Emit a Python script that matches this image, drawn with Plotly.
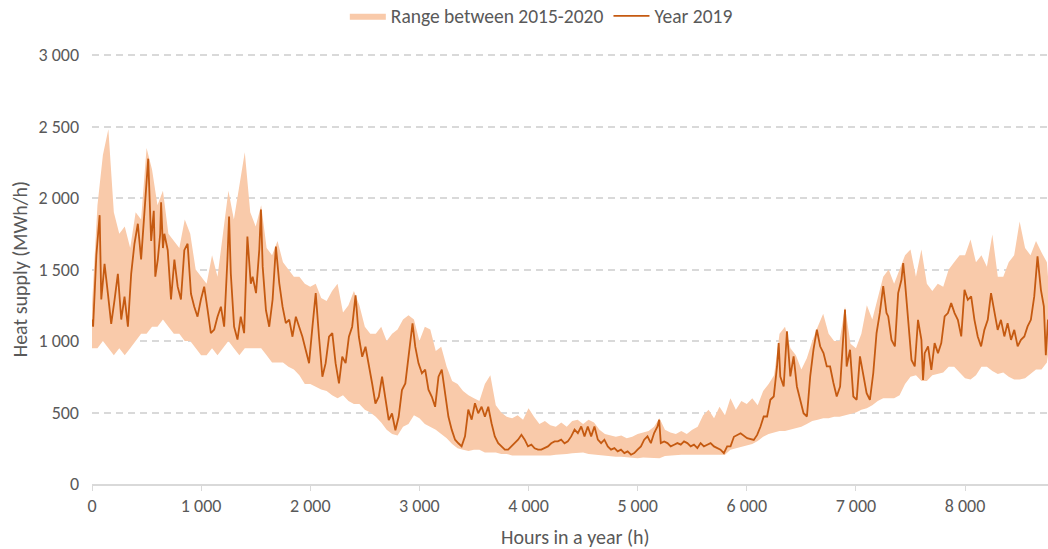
import plotly.graph_objects as go

# ---- Year 2019 line (hours, MWh/h) ----
line_hours = [
    0, 10, 40, 70, 85, 115, 146, 176, 207, 237,
    268, 298, 329, 359, 389, 420, 450, 481, 505, 515,
    542, 566, 580, 603, 625, 633, 650, 663, 694, 724,
    755, 785, 815, 846, 876, 907, 937, 967, 998, 1028,
    1059, 1089, 1120, 1150, 1181, 1211, 1241, 1256, 1272, 1302,
    1333, 1363, 1394, 1424, 1455, 1472, 1503, 1533, 1548, 1564,
    1594, 1624, 1655, 1685, 1716, 1746, 1776, 1807, 1837, 1868,
    1898, 1928, 1959, 1989, 2020, 2050, 2080, 2111, 2141, 2172,
    2202, 2232, 2263, 2293, 2324, 2354, 2384, 2415, 2445, 2476,
    2506, 2536, 2567, 2597, 2628, 2658, 2688, 2719, 2749, 2780,
    2810, 2840, 2871, 2901, 2937, 2962, 2992, 3023, 3053, 3083,
    3114, 3144, 3175, 3205, 3235, 3266, 3296, 3327, 3357, 3387,
    3418, 3448, 3479, 3509, 3539, 3570, 3600, 3631, 3661, 3691,
    3722, 3752, 3783, 3813, 3843, 3874, 3904, 3935, 3965, 3995,
    4026, 4056, 4087, 4117, 4147, 4178, 4208, 4239, 4269, 4299,
    4330, 4360, 4391, 4422, 4452, 4483, 4513, 4543, 4574, 4604,
    4635, 4665, 4695, 4726, 4756, 4787, 4817, 4847, 4878, 4908,
    4939, 4969, 4999, 5030, 5060, 5090, 5121, 5151, 5182, 5197,
    5212, 5243, 5273, 5303, 5334, 5364, 5395, 5425, 5455, 5486,
    5516, 5547, 5577, 5607, 5638, 5668, 5699, 5729, 5759, 5790,
    5820, 5851, 5882, 5943, 6003, 6064, 6095, 6125, 6155, 6186,
    6216, 6247, 6277, 6292, 6307, 6338, 6368, 6399, 6429, 6459,
    6490, 6520, 6551, 6581, 6611, 6642, 6672, 6703, 6733, 6763,
    6794, 6824, 6855, 6885, 6900, 6915, 6946, 6976, 7007, 7037,
    7067, 7098, 7128, 7159, 7189, 7219, 7250, 7280, 7296, 7326,
    7357, 7387, 7417, 7433, 7448, 7478, 7509, 7539, 7569, 7600,
    7615, 7630, 7661, 7691, 7721, 7752, 7782, 7813, 7843, 7873,
    7904, 7934, 7965, 7995, 8025, 8056, 8086, 8116, 8147, 8177,
    8208, 8238, 8269, 8299, 8329, 8360, 8390, 8421, 8451, 8482,
    8512, 8543, 8573, 8603, 8634, 8664, 8695, 8722, 8740, 8760,
]
year_2019 = [
    1150, 1100, 1600, 1880, 1290, 1540, 1330, 1120, 1290, 1470,
    1150, 1310, 1100, 1470, 1680, 1820, 1570, 1910, 2100, 2275,
    1700, 1910, 1450, 1570, 1750, 1970, 1650, 1750, 1635, 1290,
    1570, 1380, 1290, 1635, 1680, 1330, 1240, 1170, 1290, 1380,
    1220, 1055, 1080, 1170, 1240, 1100, 1570, 1870, 1470, 1100,
    1010, 1170, 1055, 1730, 1400, 1450, 1335, 1640, 1920, 1520,
    1215, 1100, 1290, 1660, 1405, 1240, 1125, 1150, 1030, 1170,
    1100, 1030, 935, 845, 1100, 1335, 1030, 750, 845, 1030,
    1055, 845, 703, 890, 845, 1030, 1100, 1320, 1030, 890,
    960, 845, 703, 563, 610, 750, 587, 446, 493, 376,
    470, 657, 703, 890, 1123, 960, 844, 774, 800, 660,
    610, 540, 750, 800, 635, 470, 380, 310, 285, 263,
    333, 520, 450, 565, 495, 540, 470, 540, 425, 333,
    285, 263, 240, 240, 263, 285, 310, 344, 310, 263,
    275, 250, 240, 240, 250, 263, 285, 298, 298, 310,
    285, 298, 333, 380, 356, 402, 333, 402, 333, 402,
    310, 286, 310, 263, 240, 251, 228, 240, 216, 228,
    205, 216, 240, 263, 310, 333, 286, 356, 402, 449,
    286, 298, 286, 263, 275, 286, 275, 298, 286, 263,
    275, 251, 286, 263, 275, 286, 263, 251, 240, 216,
    263, 263, 330, 355, 320, 308, 343, 400, 472, 472,
    589, 612, 822, 986, 752, 682, 1068, 752, 892, 682,
    589, 495, 472, 752, 939, 1079, 963, 916, 822, 822,
    706, 612, 682, 1010, 1220, 822, 939, 612, 589, 892,
    752, 635, 589, 776, 1056, 1196, 1383, 1196, 1172, 1008,
    962, 1335, 1428, 1545, 1428, 1148, 868, 822, 1148, 1008,
    728, 915, 962, 798, 985, 915, 985, 1172, 1195, 1265,
    1195, 1148, 1032, 1358, 1288, 1312, 1148, 1032, 962, 1078,
    1148, 1335, 1195, 1078, 1148, 1032, 1125, 1008, 1078, 962,
    1008, 1032, 1102, 1148, 1312, 1592, 1358, 1242, 900, 1150,
]

# ---- Range between 2015-2020 (upper / lower envelope) ----
band_hours = [
    0, 50, 100, 150, 200, 250, 300, 350, 400, 450,
    500, 550, 600, 650, 700, 750, 800, 850, 900, 950,
    1000, 1050, 1100, 1150, 1200, 1250, 1300, 1350, 1400, 1450,
    1500, 1550, 1600, 1650, 1700, 1750, 1800, 1850, 1900, 1950,
    2000, 2050, 2100, 2150, 2200, 2250, 2300, 2350, 2400, 2450,
    2500, 2550, 2600, 2650, 2700, 2750, 2800, 2850, 2900, 2950,
    3000, 3050, 3100, 3150, 3200, 3250, 3300, 3350, 3400, 3450,
    3500, 3550, 3600, 3650, 3700, 3750, 3800, 3850, 3900, 3950,
    4000, 4050, 4100, 4150, 4200, 4250, 4300, 4350, 4400, 4450,
    4500, 4550, 4600, 4650, 4700, 4750, 4800, 4850, 4900, 4950,
    5000, 5050, 5100, 5150, 5200, 5250, 5300, 5350, 5400, 5450,
    5500, 5550, 5600, 5650, 5700, 5750, 5800, 5850, 5900, 5950,
    6000, 6050, 6100, 6150, 6200, 6250, 6300, 6350, 6400, 6450,
    6500, 6550, 6600, 6650, 6700, 6750, 6800, 6850, 6900, 6950,
    7000, 7050, 7100, 7150, 7200, 7250, 7300, 7350, 7400, 7450,
    7500, 7550, 7600, 7650, 7700, 7750, 7800, 7850, 7900, 7950,
    8000, 8050, 8100, 8150, 8200, 8250, 8300, 8350, 8400, 8450,
    8500, 8550, 8600, 8650, 8700, 8750, 8760,
]
range_max = [
    1250, 1950, 2300, 2480, 1900, 1750, 1800, 1650, 1900, 1850,
    2350, 2200, 1950, 2050, 1750, 1700, 1650, 1850, 1750, 1500,
    1450, 1400, 1600, 1450, 1750, 2050, 1850, 2100, 2320, 1900,
    1800, 1950, 1650, 1600, 1700, 1550, 1500, 1450, 1450, 1400,
    1380, 1400, 1300, 1280, 1350, 1400, 1200, 1250, 1350, 1250,
    1100, 1050, 1050, 1100, 1000, 1050, 1080, 1150, 1180, 1150,
    1000, 1100, 1080, 930, 960, 820, 720, 700, 650, 620,
    600, 580, 700, 760, 550, 500, 470, 460, 480, 450,
    530, 470, 420, 440, 410, 400, 430, 400, 440, 450,
    420, 450, 430, 380, 350, 340, 330, 340, 320, 330,
    350, 360, 370, 400, 460, 380, 360, 350, 370, 350,
    380, 400, 480, 520, 460, 540, 480, 600, 520, 580,
    560, 600, 550, 650, 700, 760, 1050, 1100, 950, 900,
    800, 880, 1000, 1100, 1190, 1050, 1000, 1000, 1240, 980,
    950, 1050, 1250, 1150, 1300, 1450, 1500, 1400, 1500, 1600,
    1640, 1450, 1640, 1400, 1350, 1400, 1380, 1500, 1550, 1600,
    1600, 1710, 1550, 1600, 1520, 1745, 1450, 1450, 1550, 1600,
    1835, 1650, 1600, 1700, 1620, 1550, 1450,
]
range_min = [
    950, 950, 1000, 950, 900, 950, 900, 950, 1000, 1050,
    1050, 1100, 1100, 1150, 1100, 1050, 1050, 1000, 1000, 950,
    900, 900, 950, 900, 950, 1000, 950, 900, 950, 950,
    950, 950, 900, 850, 850, 850, 820, 800, 760, 700,
    700, 680, 660, 650, 620, 600, 620, 580, 560, 560,
    520, 500, 470, 430, 380, 350, 340, 400, 420, 480,
    460, 420, 400, 380, 350, 320, 280, 250, 240, 230,
    240, 240, 220, 220, 220, 210, 210, 200, 200, 200,
    195, 195, 195, 200, 200, 205, 205, 210, 215, 215,
    220, 210, 205, 200, 195, 190, 190, 190, 185, 180,
    180, 185, 185, 180, 180, 195, 200, 205, 205, 205,
    205, 200, 205, 205, 205, 200, 205, 240, 250, 260,
    265, 280, 300, 330, 350, 360, 370, 370, 380, 390,
    400, 420, 440, 450, 460, 460, 470, 470, 480, 490,
    500, 520, 530, 550, 580, 600, 600, 600, 620, 700,
    750, 760, 720, 720, 760, 770, 780, 820, 820, 780,
    740, 730, 760, 820, 820, 790, 770, 780, 750, 730,
    730, 740, 770, 800, 800, 850, 900,
]

x_tick_vals = [0, 1000, 2000, 3000, 4000, 5000, 6000, 7000, 8000]
x_tick_text = ["0", "1 000", "2 000", "3 000", "4 000", "5 000", "6 000", "7 000", "8 000"]
y_tick_vals = [0, 500, 1000, 1500, 2000, 2500, 3000]
y_tick_text = ["0", "500", "1 000", "1 500", "2 000", "2 500", "3 000"]

FONT = "Carlito, Lato, 'Open Sans', sans-serif"
GREY = "#595959"
BAND = "#F9CAAA"
LINE = "#C55A11"

fig = go.Figure()
fig.add_trace(go.Scatter(
    x=band_hours, y=range_min, mode="lines",
    line=dict(width=0, color=BAND), showlegend=False, hoverinfo="skip",
))
fig.add_trace(go.Scatter(
    x=band_hours, y=range_max, mode="lines", fill="tonexty",
    fillcolor=BAND, line=dict(width=0, color=BAND),
    name="Range between 2015-2020",
))
fig.add_trace(go.Scatter(
    x=line_hours, y=year_2019, mode="lines",
    line=dict(width=1.8, color=LINE), name="Year 2019",
))

fig.update_layout(
    width=1048, height=549,
    margin=dict(l=92, r=0, t=52, b=65, autoexpand=False),
    paper_bgcolor="white", plot_bgcolor="white",
    font=dict(family=FONT, color=GREY, size=18),
    legend=dict(
        orientation="h", x=0.47, xanchor="center", y=1.083, yanchor="middle",
        font=dict(size=19.5, color=GREY), itemwidth=36, traceorder="normal",
    ),
    xaxis=dict(
        range=[0, 8760], tickvals=x_tick_vals, ticktext=x_tick_text,
        showgrid=False, zeroline=False, showline=True, linecolor="#D9D9D9",
        linewidth=1.5, ticks="outside", ticklen=5, tickcolor="#D9D9D9",
        tickfont=dict(size=18, color=GREY), automargin=False,
    ),
    yaxis=dict(
        range=[0, 3021], tickvals=y_tick_vals, ticktext=y_tick_text,
        showgrid=True, gridcolor="#D9D9D9", gridwidth=1.5, griddash="7px,5px",
        zeroline=False, showline=False, ticks="", ticklabelstandoff=12,
        tickfont=dict(size=18, color=GREY), automargin=False,
    ),
    annotations=[
        dict(text="Heat supply (MWh/h)", xref="paper", yref="paper",
             x=-0.0753, y=0.497, xanchor="center", yanchor="middle",
             textangle=-90, showarrow=False, font=dict(size=20, color=GREY)),
        dict(text="Hours in a year (h)", xref="paper", yref="paper",
             x=0.506, y=-0.122, xanchor="center", yanchor="middle",
             showarrow=False, font=dict(size=20, color=GREY)),
    ],
)

fig.write_html("out.html")
